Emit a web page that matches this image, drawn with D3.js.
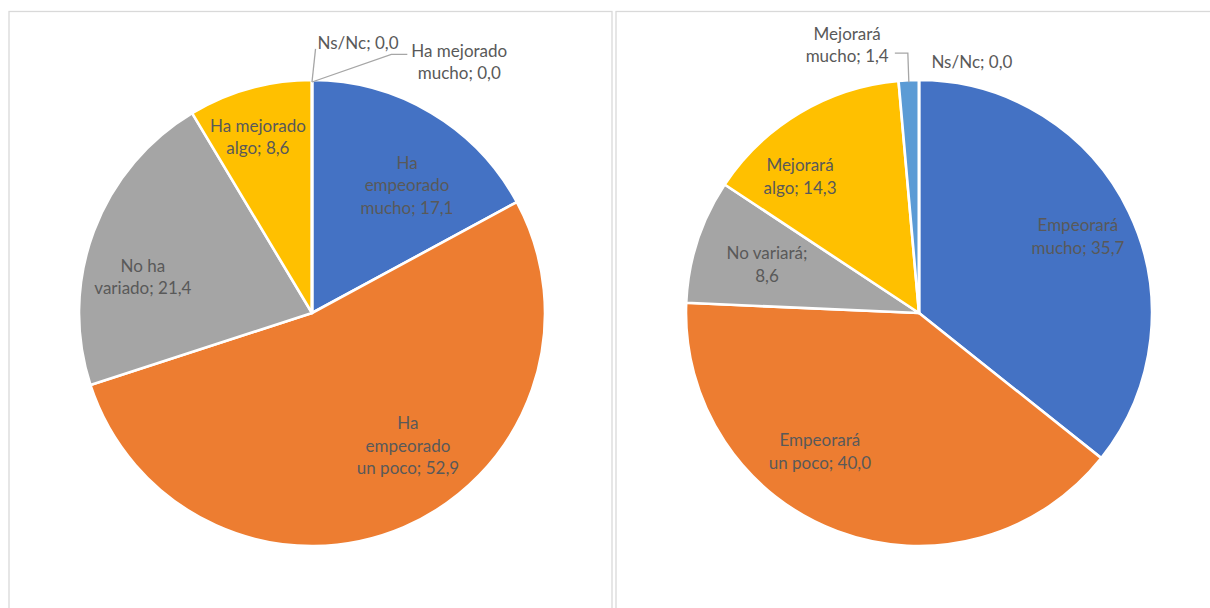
<!DOCTYPE html>
<html>
<head>
<meta charset="utf-8">
<script src="https://cdn.jsdelivr.net/npm/d3@7"></script>
<style>
  html, body { margin: 0; padding: 0; background: #fff; }
  svg { display: block; }
</style>
</head>
<body>
<svg id="chart" width="1210" height="608"></svg>
<script>
// ---- data ----
const leftCategories = ["Ha empeorado mucho", "Ha empeorado un poco", "No ha variado", "Ha mejorado algo", "Ha mejorado mucho", "Ns/Nc"];
const leftValues = [17.1, 52.9, 21.4, 8.6, 0.0, 0.0];
const leftLabelLines = [["Ha", "empeorado", "mucho; 17,1"], ["Ha", "empeorado", "un poco; 52,9"], ["No ha", "variado; 21,4"], ["Ha mejorado", "algo; 8,6"], ["Ha mejorado", "mucho; 0,0"], ["Ns/Nc; 0,0"]];

const rightCategories = ["Empeorará mucho", "Empeorará un poco", "No variará", "Mejorará algo", "Mejorará mucho", "Ns/Nc"];
const rightValues = [35.7, 40.0, 8.6, 14.3, 1.4, 0.0];
const rightLabelLines = [["Empeorará", "mucho; 35,7"], ["Empeorará", "un poco; 40,0"], ["No variará;", "8,6"], ["Mejorará", "algo; 14,3"], ["Mejorará", "mucho; 1,4"], ["Ns/Nc; 0,0"]];

// ---- styles / layout (kept separate from data) ----
const palette = ["#4472C4", "#ED7D31", "#A5A5A5", "#FFC000", "#5B9BD5", "#70AD47"];
const textColor = "#595959";
const fontFamily = "Lato, 'Open Sans', sans-serif";
const fontSize = 17;
const lineH = 22.5;

// label placement: [angle in degrees clockwise from 12 o'clock, radius fraction]
const leftLabelPolar = [[36.6, 0.684], [144.2, 0.704], [282.0, 0.742], [342.9, 0.790], [30.4, 1.249], [9.67, 1.176]];
const rightLabelPolar = [[64.3, 0.757], [215.6, 0.731], [287.7, 0.685], [318.9, 0.777], [345.0, 1.191], [11.9, 1.101]];

const svg = d3.select("#chart");

// panel frames
const frames = [
  {x: 9, y: 11.5, w: 603, h: 620},
  {x: 616, y: 11.5, w: 606, h: 620}
];
svg.selectAll("rect.frame").data(frames).join("rect")
  .attr("class", "frame")
  .attr("x", d => d.x).attr("y", d => d.y)
  .attr("width", d => d.w).attr("height", d => d.h)
  .attr("fill", "#fff").attr("stroke", "#D9D9D9").attr("stroke-width", 1.3);

function drawPie(cx, cy, r, values, labelLines, labelPolar, leaders) {
  const g = svg.append("g").attr("transform", `translate(${cx},${cy})`);
  const pie = d3.pie().sort(null).value(d => d);
  const arcs = pie(values);
  const arc = d3.arc().innerRadius(0).outerRadius(r);

  g.selectAll("path.slice").data(arcs).join("path")
    .attr("class", "slice")
    .attr("d", arc)
    .attr("fill", (d, i) => palette[i])
    .attr("stroke", "#fff")
    .attr("stroke-width", 2.6)
    .attr("stroke-linejoin", "round");

  const toXY = (angDeg, k) => {
    const a = angDeg * Math.PI / 180;
    return [k * r * Math.sin(a), -k * r * Math.cos(a)];
  };

  const labels = g.selectAll("text.lbl").data(arcs).join("text")
    .attr("class", "lbl")
    .attr("font-family", fontFamily)
    .attr("font-size", fontSize)
    .attr("fill", textColor)
    .attr("text-anchor", "middle")
    .each(function(d, i) {
      const [x, y] = toXY(labelPolar[i][0], labelPolar[i][1]);
      const lines = labelLines[i];
      const t = d3.select(this);
      const y0 = y - (lines.length - 1) * lineH / 2;
      lines.forEach((ln, j) => {
        t.append("tspan").attr("x", x).attr("y", y0 + j * lineH)
          .attr("dy", "0.35em").text(ln);
      });
    });

  // leader lines for the small outside labels
  const nodes = labels.nodes();
  leaders.forEach(L => {
    const bb = nodes[L.index].getBBox();
    const d = arcs[L.index];
    const mid = (d.startAngle + d.endAngle) / 2;
    const edge = [ (r - 2) * Math.sin(mid), -(r - 2) * Math.cos(mid) ];
    const pts = L.route(bb, edge);
    g.append("path")
      .attr("d", d3.line()(pts))
      .attr("fill", "none")
      .attr("stroke", "#A6A6A6")
      .attr("stroke-width", 1.3);
  });
}

const R = 233;
drawPie(312, 313, R, leftValues, leftLabelLines, leftLabelPolar, [
  { index: 4, route: (bb, e) => {
      const endX = bb.x - 4, yy = bb.y + bb.height / 2 - 7;
      return [e, [endX - 16, yy], [endX, yy]];
  }},
  { index: 5, route: (bb, e) => [e, [bb.x - 2, bb.y + bb.height - 4]] }
]);
drawPie(919, 313, R, rightValues, rightLabelLines, rightLabelPolar, [
  { index: 4, route: (bb, e) => {
      const yy = bb.y + bb.height - 13;
      return [e, [e[0] - 1, yy], [bb.x + bb.width + 6, yy]];
  }}
]);
</script>
</body>
</html>
